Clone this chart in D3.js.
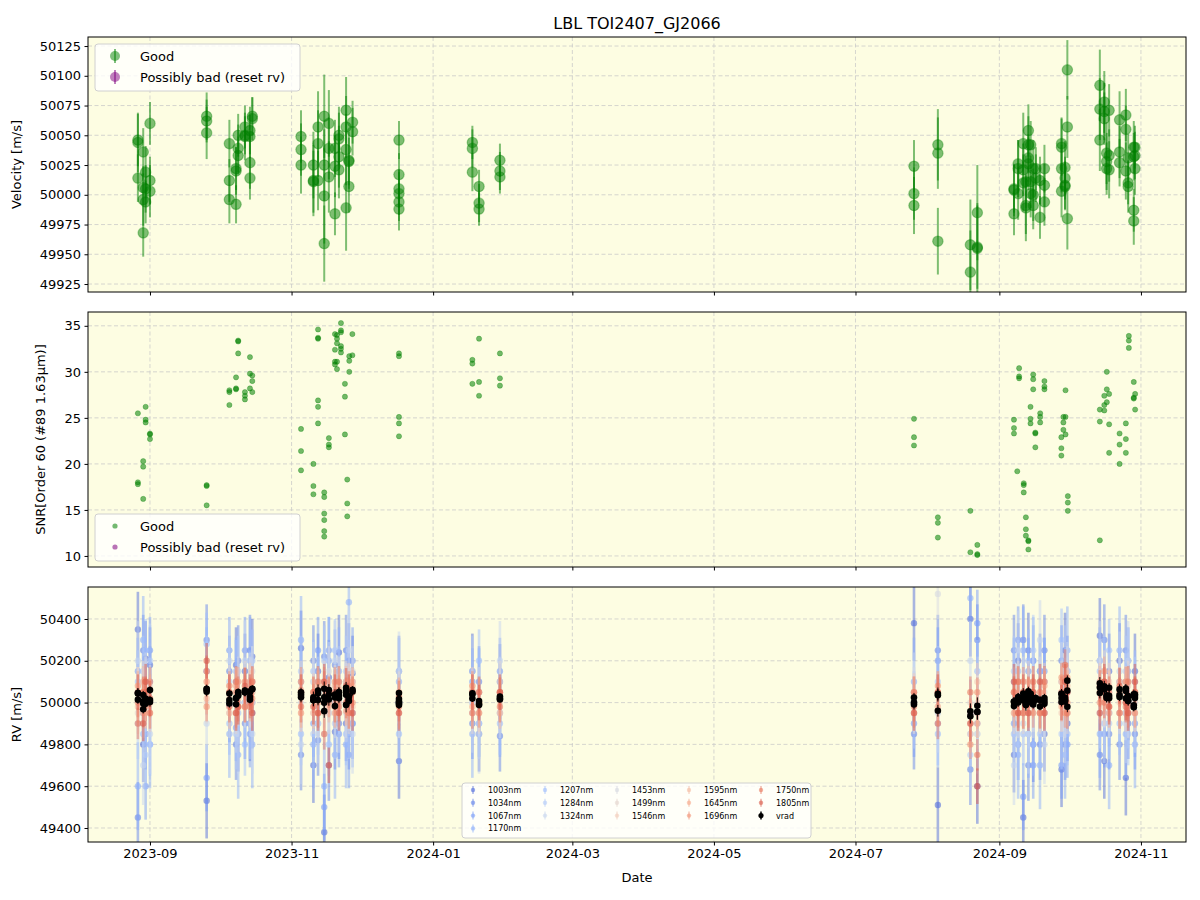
<!DOCTYPE html>
<html>
<head>
<meta charset="utf-8">
<script src="https://cdn.jsdelivr.net/npm/d3@7"></script>
<style>
  body { margin: 0; background: #fff; font-family: "DejaVu Sans", sans-serif; }
</style>
</head>
<body>
<div id="chart"></div>
<script>
// ---- data ----

// top panel: velocity per night (several exposures per night)
const rvNights = ["2023-08-26 19:00","2023-08-29 02:00","2023-08-30 03:00","2023-09-01 00:00","2023-09-25 10:00",
  "2023-10-05 05:00","2023-10-08 02:00","2023-10-09 00:00","2023-10-11 22:00","2023-10-14 02:00","2023-10-15 02:00",
  "2023-11-05 02:00","2023-11-10 10:00","2023-11-12 10:00","2023-11-15 02:00","2023-11-17 02:00","2023-11-19 17:00",
  "2023-11-21 10:00","2023-11-24 12:00","2023-11-25 17:00","2023-11-27 07:00","2023-12-17 07:00","2024-01-17 22:00",
  "2024-01-20 19:00","2024-01-29 19:00","2024-07-26 05:00","2024-08-05 12:00","2024-08-19 12:00","2024-08-22 12:00",
  "2024-09-07 07:00","2024-09-09 02:00","2024-09-11 07:00","2024-09-12 10:00","2024-09-13 12:00","2024-09-14 12:00",
  "2024-09-15 14:00","2024-09-16 17:00","2024-09-18 12:00","2024-09-20 10:00","2024-09-27 19:00","2024-09-29 07:00",
  "2024-09-30 07:00","2024-10-14 07:00","2024-10-16 05:00","2024-10-17 05:00","2024-10-18 07:00","2024-10-22 19:00",
  "2024-10-25 12:00","2024-10-26 12:00","2024-10-28 22:00","2024-10-29 10:00"];
const rvVel = [[50046,50044,50014],[50036,50006,49996,49968],[50019,50005,49994],[50060,50012,50003],[50066,50062,50052],
  [50043,50012,49996],[50020,50022,49992],[50050,50039,50033],[50057,50049,50050],[50054,50049,50027,50014],[50066,50064],
  [50049,50038,50025],[50025,50012,50011],[50057,50043,50012],[49999,49959,50025,50066],[50060,50039,50015],[49984,50039,50024],
  [50050,50047,50032,50021],[50071,50057,50038,49989],[50029,50007,50028],[50061,50053],[50046,50017,50005,50001,49994,49988],[50044,50039,50019],
  [50007,49993,49988],[50029,50020,50015],[50024,50001,49991],[50042,50035,49961],[49958,49935],[49985,49956,49955],
  [50005,49984,50004],[50022,50026,50001],[50043,50021,50010],[49991,49989,50011],[50054,50042,50031,50026],[50042,50011,50001],
  [49991,50000,50022],[50022,50014],[49981,50012],[50022,50008,49994],[50043,50040,50022,50003],[50014,50008,50023,50007],
  [49980,50057,50105],[50092,50072,50046],[50078,50070,50064],[50028,50022,50035],[50071,50033,50021],[50063,50036,50027],
  [50067,50055,50020],[50031,50010,50007],[49987,49978,50040,50032],[50040,50033,50022]];
const rvErr = [[22,25,20],[20,18,22,20],[22,20,18],[18,20,22],[20,18,22],
  [20,18,20],[20,18,16],[18,20,16],[18,20,16],[20,18,22,18],[16,18],
  [22,22,24],[28,30,26],[30,28,25],[40,32,30,35],[28,26,30],[18,24,26],
  [24,22,26,24],[28,26,30,36],[24,22,20],[18,20],[16,18,16,18,16,18],[14,16,16],
  [14,16,14],[14,16,14],[22,22,24],[30,30,28],[38,35],[40,35,38],
  [20,18,22],[24,20,22],[26,22,24],[24,28,22],[22,24,20,22],[20,22,20],
  [20,22,24],[18,20],[18,20],[20,18,20],[22,24,20,22],[18,20,22,20],
  [26,26,25],[30,26,26],[26,24,22],[24,22,26],[22,22,24],[24,22,20],
  [22,20,24],[20,18,22],[18,20,22,20],[18,20,22]];

// middle panel: SNR per night
const snrNights = ["2023-08-26 19:00","2023-08-29 02:00","2023-08-30 03:00","2023-09-01 00:00","2023-09-25 10:00",
  "2023-10-05 05:00","2023-10-08 02:00","2023-10-09 00:00","2023-10-11 22:00","2023-10-14 02:00","2023-10-15 02:00",
  "2023-11-05 02:00","2023-11-10 10:00","2023-11-12 10:00","2023-11-15 02:00","2023-11-17 02:00","2023-11-19 17:00",
  "2023-11-20 14:00","2023-11-22 07:00","2023-11-24 00:00","2023-11-25 00:00","2023-11-25 21:00","2023-11-27 05:00",
  "2023-12-17 07:00","2024-01-17 22:00","2024-01-20 19:00","2024-01-29 19:00","2024-07-26 05:00","2024-08-05 12:00",
  "2024-08-19 12:00","2024-08-22 12:00","2024-09-07 07:00","2024-09-08 17:00","2024-09-09 12:00","2024-09-11 12:00",
  "2024-09-12 10:00","2024-09-13 12:00","2024-09-14 10:00","2024-09-15 14:00","2024-09-16 12:00","2024-09-18 14:00",
  "2024-09-20 10:00","2024-09-27 17:00","2024-09-28 14:00","2024-09-29 12:00","2024-09-30 12:00","2024-10-14 07:00",
  "2024-10-16 05:00","2024-10-17 07:00","2024-10-18 07:00","2024-10-22 19:00","2024-10-25 12:00","2024-10-26 19:00",
  "2024-10-28 22:00","2024-10-29 12:00"];
const snrVals = [[25.5,18.0,17.8],[20.3,19.7,16.2],[26.2,24.8,24.5],[23.3,23.2,22.7],[17.7,17.6,15.5],
  [28.0,27.8,26.4],[29.4,28.2,28.1],[33.4,33.3,32.0],[27.8,27.4,27.0],[31.6,29.8,28.2],[29.6,29.0,27.8],
  [23.8,21.4,19.3],[20.0,17.6,16.7],[34.6,33.7,33.6,26.9,26.2,24.4],[16.9,16.4,14.6,13.9,12.7,12.1],[22.8,22.1,21.8],[34.1,32.4,31.1,30.8],
  [34.0,33.6,33.1,31.1,30.3],[35.3,34.5,34.3,32.8,32.5,32.1],[28.7,27.3,23.2],[18.3,15.7,14.3],[31.7,31.2,30.0],[34.1,31.8],
  [32.0,31.7,25.1,24.4,23.0],[31.3,30.9,28.7],[33.6,28.9,27.4],[32.0,29.3,28.5],[24.9,22.9,22.0],[14.2,13.6,12.0],
  [14.9,10.4],[11.2,10.2,10.1],[24.8,23.9,23.3],[19.2],[30.4,29.5,29.3],[17.9,17.7,16.9],
  [14.2,12.9,12.2],[11.7,11.6,10.7],[26.2,24.9,24.4],[29.7,29.2,28.1],[23.4,23.3,21.8],[25.5,25.1,24.5],
  [29.0,28.4,28.1],[22.9,21.7,20.9],[25.1,24.5,23.7],[28.0,25.1,23.2],[16.5,15.8,14.9],[25.9,24.6,11.7],
  [27.4,26.4,25.8],[30.0,28.1,26.7],[27.6,24.3,21.2],[23.3,22.1,20.0],[24.4,22.7,21.2],[33.9,33.4,32.6],
  [28.9,27.2,27.1],[27.6,25.9]];

// bottom panel: per-band RV, one value per night
const bandNames = ["1003nm","1034nm","1067nm","1170nm","1207nm","1284nm","1324nm","1453nm",
  "1499nm","1546nm","1595nm","1645nm","1696nm","1750nm","1805nm"];
const bandNights = ["2023-08-26 19:00","2023-08-29 02:00","2023-08-30 03:00","2023-09-01 00:00","2023-09-25 10:00",
  "2023-10-05 05:00","2023-10-08 02:00","2023-10-09 00:00","2023-10-11 22:00","2023-10-14 02:00",
  "2023-10-15 02:00","2023-11-05 02:00","2023-11-10 10:00","2023-11-12 10:00","2023-11-15 02:00",
  "2023-11-17 02:00","2023-11-19 17:00","2023-11-21 10:00","2023-11-24 12:00","2023-11-25 17:00",
  "2023-11-27 07:00","2023-12-17 07:00","2024-01-17 22:00","2024-01-20 19:00","2024-01-29 19:00",
  "2024-07-26 05:00","2024-08-05 12:00","2024-08-19 12:00","2024-08-22 12:00","2024-09-07 07:00",
  "2024-09-09 02:00","2024-09-11 07:00","2024-09-13 12:00","2024-09-15 14:00","2024-09-18 12:00",
  "2024-09-20 10:00","2024-09-27 19:00","2024-09-29 07:00","2024-09-30 07:00","2024-10-14 07:00",
  "2024-10-16 05:00","2024-10-18 07:00","2024-10-22 19:00","2024-10-25 12:00","2024-10-26 12:00",
  "2024-10-29 10:00"];
const bandRV = [
  [50350,49800,50210,50180,49530,49990,50180,49850,50150,49900, 50220,50260,49700,50150,49380,50120,49860,50240,49900,50200,
   50140,49720,50150,49850,50100,50380,49510,50400,49600,49750, 50200,49450,50250,49800,50150,49850,49680,50250,49900,50320,
   49720,50150,50200,49640,50000,50150],
  [49450,50250,49850,50100,50300,50150,49800,50200,49900,50250, 49950,49750,50200,49820,50220,49700,50180,49900,50250,49850,
   49900,50150,49900,50100,49840,49850,50250,49680,50300,50250, 49800,50300,49700,50200,49800,50250,50200,49800,50150,49750,
   50300,49850,49800,50250,49900,49850],
  [50150,49950,49600,50250,49640,50250,49880,50000,50250,49850, 50000,50100,49900,50250,49500,50250,50000,49850,50100,49750,
   50200,50000,50100,49900,50150,49900,50200,49950,50380,49900, 50300,49550,50150,49700,49950,50150,49700,50100,49800,50200,
   49850,49950,50100,49950,50200,49900],
  [49600,50300,50000,49800,50150,49850,50100,49750,50000,50200, 49800,50300,49800,50050,49600,50200,49750,50150,49800,50480,
   49900,50100,49850,50050,49950,50100,49900,50500,49900,50100, 49750,50250,49850,50200,49700,50100,50000,49750,50250,49850,
   50100,49700,50250,49850,50150,49800],
  [50100,49850,50250,49800,50280,49900,50150,49950,49800,50100, 50200,49850,50150,49900,50100,49800,50250,50000,49850,50150,
   49950,49850,50000,50200,49900,50000,49850,49850,50150,49850, 50150,49850,50200,49800,50150,49950,50300,50000,49850,50150,
   49900,50250,49900,50100,49850,50100],
  [49900,50150,49750,50200,50150,50100,49850,50150,50000,49900, 50100,50150,49850,50050,50200,49950,49900,50100,50150,49900,
   50100,50000,50150,49900,50050,49950,50100,49750,49950,50150, 49800,50100,49950,50250,49850,50000,49850,50200,50050,49950,
   50150,49900,49950,50150,49950,50050],
  [50200,49700,50050,49850,49900,50200,49950,49850,50200,50050, 49850,49800,50100,49900,49850,50100,50200,49950,50000,50250,
   49850,50150,49950,49850,50200,50050,49950,50200,49850,49700, 50250,49900,49850,50050,50300,49800,50100,49900,50100,50200,
   49900,50050,50150,49900,50200,49950],
  [50050,49950,50100,50000,50150,49950,50050,50100,50000,50100, 50150,50000,50100,49950,50000,50150,49950,50100,49950,50050,
   50150,49950,50000,50050,49950,50050,50520,49900,49850,50050, 49950,50100,50000,49950,50100,49950,50050,49950,50150,50100,
   50000,49950,50100,50050,49950,50000],
  [49950,50100,49980,50080,50000,50080,49950,50000,50100,49980, 50050,50100,49950,50050,50100,49950,50080,49980,50100,49950,
   50050,50050,49950,49950,50100,49950,50050,50000,50000,49950, 50100,49950,50100,50050,49950,50050,50100,50050,49950,50000,
   50150,50050,49950,50050,50100,50000],
  [50080,49980,50030,49950,50100,50020,50080,49980,50050,50100, 50000,49950,50050,50080,49950,50050,50000,50080,50000,50100,
   49980,50020,50080,49950,50000,50050,49980,49850,50100,50050, 49950,50050,49980,50080,49950,50100,49950,50100,50050,50100,
   49980,50100,50000,49950,50080,49950],
  [49980,50100,49950,50060,50020,49950,50080,50020,49980,50080, 50050,50060,49950,50080,50000,49980,50080,50000,50100,49950,
   50080,49950,50060,50000,49950,50050,49980,49900,49950,50050, 50000,49950,50100,50000,50050,49950,50100,50000,50080,50100,
   50020,50080,49950,50100,50000,50050],
  [50080,49950,50050,50000,50100,50050,49950,50100,50060,49980, 50100,49950,50050,50000,50100,50050,49950,50060,49960,50050,
   50100,50050,49980,50050,50050,49950,50050,49950,49900,49950, 50100,50050,49950,50050,49950,50080,49980,50050,50120,50000,
   50150,49950,50100,50000,49950,50050],
  [50000,50050,49980,50100,49980,50080,50050,49980,50100,50050, 50020,50100,50020,49950,50080,50000,50100,49980,50050,50080,
   50000,49980,50080,49950,50050,49980,50080,49800,50050,50000, 49950,50100,50050,49950,50050,50000,50120,49950,50000,50050,
   50100,49980,50050,50100,49980,49950],
  [49900,50050,50050,49950,50150,49980,50100,50050,49980,50000, 50100,49980,50050,50100,49850,50050,49980,50100,50000,49950,
   50050,50030,49950,50050,49980,50050,49900,50050,49750,50050, 50100,49950,50050,50100,49950,50100,50050,50180,49950,50080,
   50000,50050,49950,49980,50100,50050],
  [50050,49900,50100,50020,50200,50050,49950,49980,50080,50050, 49950,50050,49980,49950,50100,49700,50050,49950,50080,50050,
   49950,49950,50050,50000,50050,49950,50050,49900,49600,50100, 49950,50050,49950,50050,50100,49950,50000,50100,50050,49950,
   50100,49980,50080,50000,49950,50100]
];
const bandErr = [180,170,160,210,150,170,190,120,100,90,75,70,70,75,85];

const velTicks = [49925,49950,49975,50000,50025,50050,50075,50100,50125];
const snrTicks = [10,15,20,25,30,35];
const rvTicks = [49400,49600,49800,50000,50200,50400];

// ---- layout ----
const parse = d3.timeParse("%Y-%m-%d %H:%M");
const left = 88, right = 1186;
const panels = [{top: 37, bottom: 292}, {top: 312, bottom: 567}, {top: 587, bottom: 842}];

const x = d3.scaleTime()
  .domain([parse("2023-08-05 07:00"), parse("2024-11-20 10:00")])
  .range([left, right]);
const xTicks = d3.timeMonth.every(2).range(parse("2023-09-01 00:00"), parse("2024-12-01 00:00"));

const y1 = d3.scaleLinear().domain([49918.3, 50132.6]).range([panels[0].bottom, panels[0].top]);
const y2 = d3.scaleLinear().domain([8.8, 36.5]).range([panels[1].bottom, panels[1].top]);
const y3 = d3.scaleLinear().domain([49333, 50553]).range([panels[2].bottom, panels[2].top]);

const coolwarm = d3.scaleLinear()
  .domain([0, .1, .2, .3, .4, .5, .6, .7, .8, .9, 1])
  .range(["#3b4cc0","#5977e3","#7b9ff9","#9ebeff","#c0d4f5","#dddcdc","#f2cbb7","#f7ac8e","#ee8468","#d65244","#b40426"]);
const bandColor = (i) => coolwarm(0.08 + 0.8 * i / (bandNames.length - 1));

const green = "#008000", purple = "#800080";

const svg = d3.select("#chart").append("svg")
  .attr("width", 1200).attr("height", 900)
  .style("font-family", "'DejaVu Sans', sans-serif");
svg.append("rect").attr("width", 1200).attr("height", 900).attr("fill", "#fff");

const defs = svg.append("defs");
panels.forEach((p, i) => {
  defs.append("clipPath").attr("id", "clip" + i)
    .append("rect").attr("x", left).attr("y", p.top)
    .attr("width", right - left).attr("height", p.bottom - p.top);
});

// background + grid
function drawBack(i, y, ticks) {
  const p = panels[i];
  svg.append("rect").attr("x", left).attr("y", p.top)
    .attr("width", right - left).attr("height", p.bottom - p.top)
    .attr("fill", "#fdfde2");
  const g = svg.append("g").attr("stroke", "#b8b8c0").attr("stroke-width", 0.8)
    .attr("stroke-dasharray", "4,2.5").attr("opacity", 0.7);
  g.selectAll("line.gx").data(xTicks).join("line")
    .attr("x1", d => x(d)).attr("x2", d => x(d)).attr("y1", p.top).attr("y2", p.bottom);
  g.selectAll("line.gy").data(ticks).join("line")
    .attr("y1", d => y(d)).attr("y2", d => y(d)).attr("x1", left).attr("x2", right);
}

function drawAxes(i, y, ticks, label, labelX) {
  const p = panels[i];
  const ay = svg.append("g").attr("transform", `translate(${left},0)`)
    .call(d3.axisLeft(y).tickValues(ticks).tickFormat(d3.format("d")).tickSize(3.5).tickPadding(3.5));
  ay.select(".domain").remove();
  ay.selectAll("text").style("font-size", "13px").attr("fill", "#000").style("font-family", "'DejaVu Sans', sans-serif");
  const ax = svg.append("g").attr("transform", `translate(0,${p.bottom})`)
    .call(d3.axisBottom(x).tickValues(xTicks).tickFormat(d3.timeFormat("%Y-%m")).tickSize(3.5).tickPadding(3.5));
  ax.select(".domain").remove();
  ax.selectAll("text").style("font-size", "13px").attr("fill", "#000").style("font-family", "'DejaVu Sans', sans-serif");
  if (i < 2) ax.selectAll("text").remove();
  svg.append("rect").attr("x", left).attr("y", p.top)
    .attr("width", right - left).attr("height", p.bottom - p.top)
    .attr("fill", "none").attr("stroke", "#000").attr("stroke-width", 1);
  svg.append("text")
    .attr("transform", `translate(${labelX},${(p.top + p.bottom) / 2}) rotate(-90)`)
    .attr("text-anchor", "middle").style("font-size", "13px").text(label);
}

// flatten night arrays into points
const rvPts = [];
rvNights.forEach((n, i) => rvVel[i].forEach((v, j) => rvPts.push({t: parse(n), v: v, e: rvErr[i][j]})));
const snrPts = [];
snrNights.forEach((n, i) => snrVals[i].forEach(v => snrPts.push({t: parse(n), v: v})));

// ---- panel 1 ----
drawBack(0, y1, velTicks);
const g1 = svg.append("g").attr("clip-path", "url(#clip0)");
g1.selectAll("line.err").data(rvPts).join("line")
  .attr("x1", d => x(d.t)).attr("x2", d => x(d.t))
  .attr("y1", d => y1(d.v - d.e)).attr("y2", d => y1(d.v + d.e))
  .attr("stroke", green).attr("stroke-width", 2).attr("stroke-opacity", 0.5);
g1.selectAll("circle").data(rvPts).join("circle")
  .attr("cx", d => x(d.t)).attr("cy", d => y1(d.v)).attr("r", 5.2)
  .attr("fill", green).attr("fill-opacity", 0.5)
  .attr("stroke", green).attr("stroke-opacity", 0.35).attr("stroke-width", 1.2);
drawAxes(0, y1, velTicks, "Velocity [m/s]", 21);

// ---- panel 2 ----
drawBack(1, y2, snrTicks);
const g2 = svg.append("g").attr("clip-path", "url(#clip1)");
g2.selectAll("circle").data(snrPts).join("circle")
  .attr("cx", d => x(d.t)).attr("cy", d => y2(d.v)).attr("r", 2.6)
  .attr("fill", green).attr("fill-opacity", 0.55)
  .attr("stroke", green).attr("stroke-opacity", 0.3).attr("stroke-width", 1);
drawAxes(1, y2, snrTicks, "SNR[Order 60 (#89 1.63μm)]", 45);

// ---- panel 3 ----
drawBack(2, y3, rvTicks);
const g3 = svg.append("g").attr("clip-path", "url(#clip2)");
bandRV.forEach((vals, b) => {
  const pts = vals.map((v, i) => ({t: parse(bandNights[i]), v: v})).filter(d => d.t);
  const gb = g3.append("g");
  gb.selectAll("line").data(pts).join("line")
    .attr("x1", d => x(d.t)).attr("x2", d => x(d.t))
    .attr("y1", d => y3(d.v - bandErr[b])).attr("y2", d => y3(d.v + bandErr[b]))
    .attr("stroke", bandColor(b)).attr("stroke-width", 2.6).attr("stroke-opacity", 0.5);
  gb.selectAll("circle").data(pts).join("circle")
    .attr("cx", d => x(d.t)).attr("cy", d => y3(d.v)).attr("r", 3.2)
    .attr("fill", bandColor(b)).attr("fill-opacity", 0.6);
});
g3.append("g").selectAll("line").data(rvPts).join("line")
  .attr("x1", d => x(d.t)).attr("x2", d => x(d.t))
  .attr("y1", d => y3(d.v - d.e)).attr("y2", d => y3(d.v + d.e))
  .attr("stroke", "#000").attr("stroke-width", 1);
g3.append("g").selectAll("circle").data(rvPts).join("circle")
  .attr("cx", d => x(d.t)).attr("cy", d => y3(d.v)).attr("r", 3.3)
  .attr("fill", "#000");
drawAxes(2, y3, rvTicks, "RV [m/s]", 21);

// x label + title
svg.append("text").attr("x", (left + right) / 2).attr("y", 882)
  .attr("text-anchor", "middle").style("font-size", "13px").text("Date");
svg.append("text").attr("x", (left + right) / 2).attr("y", 29)
  .attr("text-anchor", "middle").style("font-size", "16px").text("LBL TOI2407_GJ2066");

// ---- legends ----
function legendBox(x0, y0, w, h) {
  svg.append("rect").attr("x", x0).attr("y", y0).attr("width", w).attr("height", h)
    .attr("rx", 3).attr("fill", "#fff").attr("fill-opacity", 0.8)
    .attr("stroke", "#d0d0d0").attr("stroke-width", 1);
}
const qualLabels = ["Good", "Possibly bad (reset rv)"];
const qualColors = [green, purple];

// panel 1 legend (errorbar handles)
legendBox(95, 44, 205, 47);
qualLabels.forEach((lab, k) => {
  const cy = 56 + k * 21;
  svg.append("line").attr("x1", 115).attr("x2", 115).attr("y1", cy - 7).attr("y2", cy + 7)
    .attr("stroke", qualColors[k]).attr("stroke-width", 2).attr("stroke-opacity", 0.5);
  svg.append("circle").attr("cx", 115).attr("cy", cy).attr("r", 5)
    .attr("fill", qualColors[k]).attr("fill-opacity", 0.5);
  svg.append("text").attr("x", 140).attr("y", cy + 5).style("font-size", "13px").text(lab);
});

// panel 2 legend (scatter handles)
legendBox(95, 514, 205, 47);
qualLabels.forEach((lab, k) => {
  const cy = 526 + k * 21;
  svg.append("circle").attr("cx", 115).attr("cy", cy).attr("r", 2.6)
    .attr("fill", qualColors[k]).attr("fill-opacity", 0.55);
  svg.append("text").attr("x", 140).attr("y", cy + 5).style("font-size", "13px").text(lab);
});

// panel 3 legend, 5 columns filled column-wise (4,3,3,3,3)
legendBox(462, 783, 349, 55);
const legItems = bandNames.map((n, i) => ({name: n, color: bandColor(i), black: false}))
  .concat([{name: "vrad", color: "#000", black: true}]);
const colStart = [0, 4, 7, 10, 13];
legItems.forEach((it, i) => {
  let col = 0;
  for (let c = 0; c < colStart.length; c++) if (i >= colStart[c]) col = c;
  const row = i - colStart[col];
  const mx = 473 + col * 72, my = 790 + row * 12.8;
  svg.append("line").attr("x1", mx).attr("x2", mx).attr("y1", my - 4).attr("y2", my + 4)
    .attr("stroke", it.color).attr("stroke-width", 1.5).attr("stroke-opacity", it.black ? 1 : 0.5);
  svg.append("circle").attr("cx", mx).attr("cy", my).attr("r", it.black ? 2.6 : 2.2)
    .attr("fill", it.color).attr("fill-opacity", it.black ? 1 : 0.6);
  svg.append("text").attr("x", mx + 15).attr("y", my + 3).style("font-size", "8px").text(it.name);
});
</script>
</body>
</html>
